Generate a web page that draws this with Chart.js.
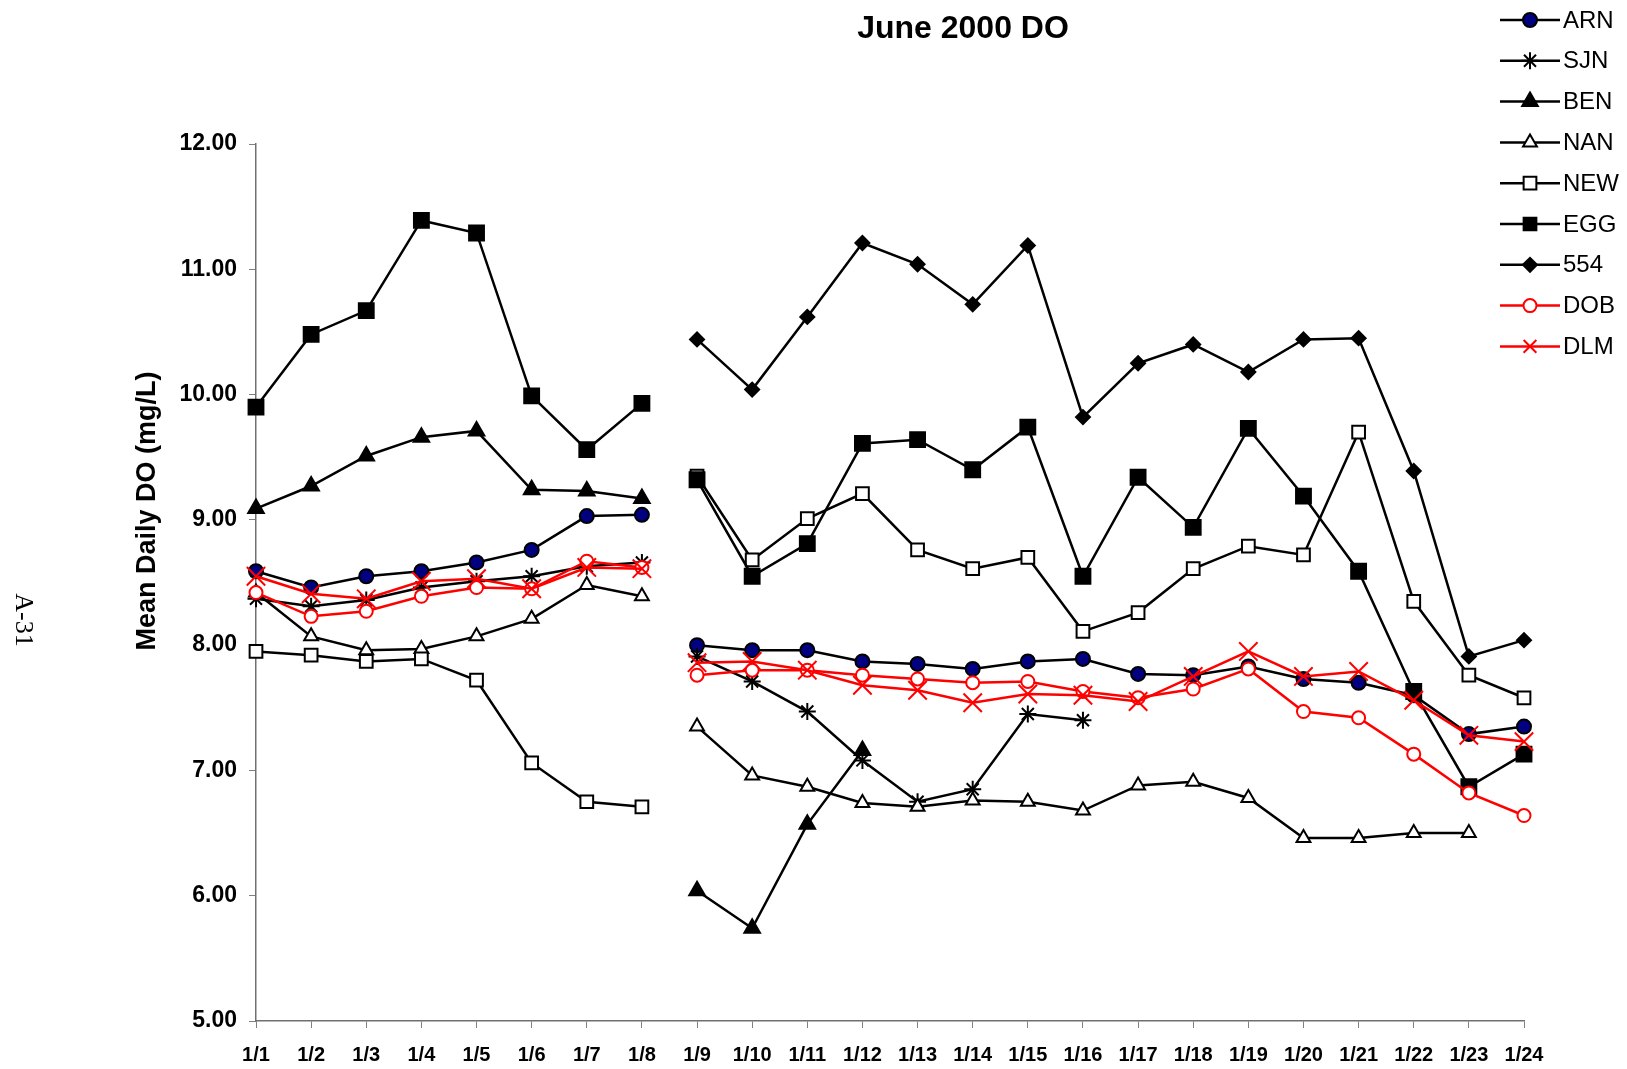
<!DOCTYPE html>
<html>
<head>
<meta charset="utf-8">
<script src="https://cdn.jsdelivr.net/npm/chart.js@4/dist/chart.umd.min.js"></script>
<style>
  html, body { margin: 0; padding: 0; background: #fff; }
  #wrap { width: 1627px; height: 1069px; }
</style>
</head>
<body>
<div id="wrap"><canvas id="chart" width="1627" height="1069"></canvas></div>
<script>
var days = ["1/1","1/2","1/3","1/4","1/5","1/6","1/7","1/8","1/9","1/10","1/11","1/12",
            "1/13","1/14","1/15","1/16","1/17","1/18","1/19","1/20","1/21","1/22","1/23","1/24"];

var arn = [8.59, 8.46, 8.55, 8.59, 8.66, 8.76, 9.03, 9.04, 8.00, 7.96, 7.96, 7.87,
           7.85, 7.81, 7.87, 7.89, 7.77, 7.76, 7.83, 7.73, 7.70, 7.60, 7.29, 7.35];
var sjn = [8.37, 8.31, 8.36, 8.46, 8.51, 8.55, 8.63, 8.66, 7.91, 7.71, 7.47, 7.08,
           6.75, 6.85, 7.45, 7.40, null, null, null, null, null, null, null, null];
var ben = [9.09, 9.27, 9.51, 9.66, 9.71, 9.24, 9.23, 9.17, 6.04, 5.74, 6.57, 7.16,
           null, null, null, null, null, null, null, null, null, null, null, null];
var nan = [8.42, 8.07, 7.96, 7.97, 8.07, 8.21, 8.48, 8.39, 7.35, 6.96, 6.87, 6.74,
           6.71, 6.76, 6.75, 6.68, 6.88, 6.91, 6.78, 6.46, 6.46, 6.50, 6.50, null];
var newSite = [7.95, 7.92, 7.87, 7.89, 7.72, 7.06, 6.75, 6.71, 9.35, 8.68, 9.01, 9.21,
               8.76, 8.61, 8.70, 8.11, 8.26, 8.61, 8.79, 8.72, 9.70, 8.35, 7.76, 7.58];
var egg = [9.90, 10.48, 10.67, 11.39, 11.29, 9.99, 9.56, 9.93, 9.32, 8.55, 8.81, 9.61,
           9.64, 9.40, 9.74, 8.55, 9.34, 8.94, 9.73, 9.19, 8.59, 7.63, 6.87, 7.13];
var s554 = [null, null, null, null, null, null, null, null, 10.44, 10.04, 10.62, 11.21,
            11.04, 10.72, 11.19, 9.82, 10.25, 10.40, 10.18, 10.44, 10.45, 9.39, 7.91, 8.04];
var dob = [8.42, 8.23, 8.27, 8.39, 8.46, 8.45, 8.67, 8.62, 7.76, 7.80, 7.80, 7.76,
           7.73, 7.70, 7.71, 7.63, 7.58, 7.65, 7.81, 7.47, 7.42, 7.13, 6.82, 6.64];
var dlm = [8.55, 8.41, 8.37, 8.51, 8.53, 8.45, 8.62, 8.61, 7.86, 7.87, 7.80, 7.68,
           7.64, 7.54, 7.61, 7.60, 7.55, 7.75, 7.95, 7.75, 7.79, 7.56, 7.28, 7.23];

var yTicks = [5, 6, 7, 8, 9, 10, 11, 12];

// the record breaks between 1/8 and 1/9
var gapAfter = 7;

function series(label, data, color, style, radius, fill, order) {
    return {
        label: label,
        data: data,
        borderColor: color,
        borderWidth: 2.5,
        pointStyle: style,
        pointRadius: radius,
        pointHoverRadius: radius,
        pointBorderColor: color,
        pointBackgroundColor: fill,
        pointBorderWidth: 2,
        tension: 0,
        clip: false,
        order: order,
        segment: {
            borderColor: function(c) { return c.p0DataIndex === gapAfter ? 'rgba(0,0,0,0)' : undefined; }
        }
    };
}

var datasets = [
    series("ARN", arn, "#000000", "circle", 7, "#000080", 9),
    series("SJN", sjn, "#000000", "star", 8.5, "#000000", 8),
    series("BEN", ben, "#000000", "triangle", 9, "#000000", 7),
    series("NAN", nan, "#000000", "triangle", 8, "#ffffff", 6),
    series("NEW", newSite, "#000000", "rect", 9, "#ffffff", 5),
    series("EGG", egg, "#000000", "rect", 10.5, "#000000", 4),
    series("554", s554, "#000000", "rectRot", 7, "#000000", 3),
    series("DOB", dob, "#ff0000", "circle", 6.5, "#ffffff", 2),
    series("DLM", dlm, "#ff0000", "crossRot", 13, "#ff0000", 1)
];

var extras = {
    id: "extras",
    afterDraw: function(chart) {
        var ctx = chart.ctx;
        ctx.save();

        // title
        ctx.fillStyle = "#000";
        ctx.font = "bold 32px 'Liberation Sans', Arial, sans-serif";
        ctx.textAlign = "center";
        ctx.textBaseline = "middle";
        ctx.fillText("June 2000 DO", 963, 29);

        // y axis title
        ctx.save();
        ctx.translate(148, 511);
        ctx.rotate(-Math.PI / 2);
        ctx.font = "bold 27px 'Liberation Sans', Arial, sans-serif";
        ctx.fillText("Mean Daily DO (mg/L)", 0, 0);
        ctx.restore();

        // page number
        ctx.save();
        ctx.translate(23, 620);
        ctx.rotate(Math.PI / 2);
        ctx.font = "26px 'Liberation Serif', 'Times New Roman', serif";
        ctx.fillText("A-31", 0, 0);
        ctx.restore();

        // legend
        ctx.textAlign = "left";
        ctx.font = "24px 'Liberation Sans', Arial, sans-serif";
        chart.data.datasets.forEach(function(ds, i) {
            var y = 20 + i * 40.8;
            ctx.strokeStyle = ds.borderColor;
            ctx.lineWidth = 2.5;
            ctx.beginPath();
            ctx.moveTo(1500, y);
            ctx.lineTo(1560, y);
            ctx.stroke();
            ctx.fillStyle = ds.pointBackgroundColor;
            ctx.strokeStyle = ds.pointBorderColor;
            ctx.lineWidth = 2;
            Chart.helpers.drawPoint(ctx, {
                pointStyle: ds.pointStyle,
                radius: Math.min(ds.pointRadius, 9),
                rotation: 0,
                borderWidth: 2
            }, 1530, y);
            ctx.fillStyle = "#000";
            ctx.fillText(ds.label, 1563, y + 1);
        });

        ctx.restore();
    }
};

new Chart(document.getElementById("chart"), {
    type: "line",
    data: { labels: days, datasets: datasets },
    plugins: [extras],
    options: {
        responsive: false,
        animation: false,
        devicePixelRatio: 1,
        layout: { padding: { top: 144, right: 103, left: 0, bottom: 0 } },
        plugins: {
            legend: { display: false },
            title: { display: false },
            tooltip: { enabled: false }
        },
        scales: {
            x: {
                offset: false,
                afterFit: function(scale) { scale.height = 48; },
                grid: {
                    display: true,
                    drawOnChartArea: false,
                    drawTicks: true,
                    tickLength: 7,
                    color: "#808080",
                    lineWidth: 1
                },
                border: { display: true, color: "#707070", width: 1.5 },
                ticks: {
                    autoSkip: false,
                    maxRotation: 0,
                    padding: 15,
                    color: "#000",
                    font: { family: "'Liberation Sans', Arial, sans-serif", size: 20, weight: "bold" }
                }
            },
            y: {
                min: yTicks[0],
                max: yTicks[yTicks.length - 1],
                afterFit: function(scale) { scale.width = 256; },
                afterBuildTicks: function(scale) {
                    scale.ticks = yTicks.map(function(v) { return { value: v }; });
                },
                grid: {
                    display: true,
                    drawOnChartArea: false,
                    drawTicks: true,
                    tickLength: 7,
                    color: "#808080",
                    lineWidth: 1
                },
                border: { display: true, color: "#707070", width: 1.5 },
                ticks: {
                    padding: 12,
                    color: "#000",
                    font: { family: "'Liberation Sans', Arial, sans-serif", size: 23, weight: "bold" },
                    callback: function(v) { return Number(v).toFixed(2); }
                }
            }
        }
    }
});
</script>
</body>
</html>
